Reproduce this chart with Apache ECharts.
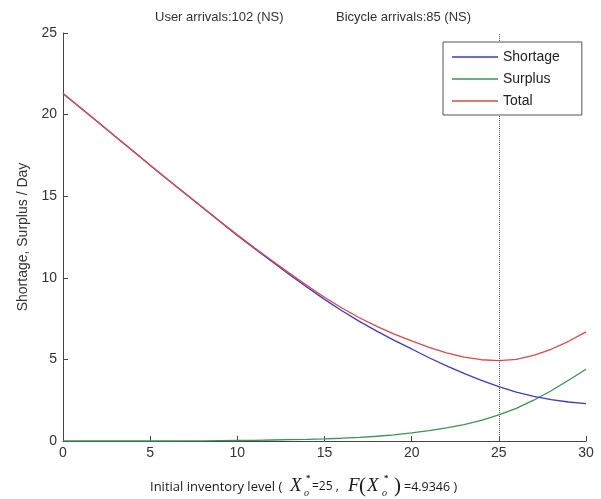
<!DOCTYPE html>
<html>
<head>
<meta charset="utf-8">
<script src="https://cdn.jsdelivr.net/npm/echarts@6/dist/echarts.min.js"></script>
<style>
  html, body { margin: 0; padding: 0; background: #fff; }
  #chart { width: 601px; height: 499px; }
</style>
</head>
<body>
<div id="chart"></div>
<script>
// Initial inventory levels (bicycles at the start of the day)
const inventoryLevels = [0, 1, 2, 3, 4, 5, 6, 7, 8, 9, 10, 11, 12, 13, 14, 15,
  16, 17, 18, 19, 20, 21, 22, 23, 24, 25, 26, 27, 28, 29, 30];

// Expected shortage per day
const shortage = [21.30, 20.42, 19.54, 18.66, 17.78, 16.90, 16.03, 15.17, 14.31, 13.45,
  12.60, 11.78, 10.98, 10.19, 9.42, 8.68, 7.98, 7.33, 6.73, 6.17,
  5.64, 5.10, 4.60, 4.14, 3.72, 3.33, 3.00, 2.74, 2.54, 2.39, 2.29];

// Expected surplus per day
const surplus = [0, 0, 0, 0, 0, 0, 0, 0.01, 0.01, 0.02,
  0.03, 0.04, 0.06, 0.08, 0.10, 0.13, 0.17, 0.22, 0.29, 0.38,
  0.50, 0.64, 0.80, 1.00, 1.26, 1.60, 2.00, 2.50, 3.08, 3.72, 4.40];

// Expected total (shortage + surplus) per day
const total = [21.30, 20.42, 19.54, 18.66, 17.78, 16.90, 16.03, 15.18, 14.32, 13.47,
  12.63, 11.82, 11.04, 10.27, 9.52, 8.81, 8.15, 7.55, 7.02, 6.55,
  6.14, 5.74, 5.40, 5.14, 4.98, 4.93, 5.00, 5.24, 5.62, 6.11, 6.69];

const xTicks = [0, 5, 10, 15, 20, 25, 30];
const yTicks = [0, 5, 10, 15, 20, 25];

const optimumLevel = 25;
const optimumCost = '4.9346';

const userArrivals = 'User arrivals:102 (NS)';
const bikeArrivals = 'Bicycle arrivals:85 (NS)';
const yName = 'Shortage, Surplus / Day';

const pair = (ys) => inventoryLevels.map((x, i) => [x, ys[i]]);

const sans = '"Liberation Sans", Arial, sans-serif';
const serif = '"Liberation Serif", "Times New Roman", serif';
const calib = '"Open Sans", "Liberation Sans", sans-serif';

const chart = echarts.init(document.getElementById('chart'), null, { renderer: 'canvas' });

// x-axis caption with math notation, laid out piece by piece
const captionY = 487;
function piece(x, y, text, font) {
  return { type: 'text', x: x, y: y, silent: true,
    style: { text: text, font: font, fill: '#1a1a1a', align: 'left', verticalAlign: 'middle' } };
}
const caption = [
  piece(150, captionY, 'Initial inventory level (', '13px ' + calib),
  piece(290, captionY - 1, 'X', 'italic 19px ' + serif),
  piece(304, captionY + 6, 'o', 'italic 10px ' + serif),
  piece(306, captionY - 8, '*', 'bold 9px ' + serif),
  piece(312, captionY, '=25 ,', '12px ' + calib),
  piece(348, captionY - 1, 'F', 'italic 19px ' + serif),
  piece(359, captionY - 1, '(', '21px ' + serif),
  piece(367, captionY - 1, 'X', 'italic 19px ' + serif),
  piece(382, captionY + 6, 'o', 'italic 10px ' + serif),
  piece(384, captionY - 8, '*', 'bold 9px ' + serif),
  piece(394, captionY - 1, ')', '21px ' + serif),
  piece(404, captionY, '=' + optimumCost + ' )', '12.5px ' + calib)
];

const titleStyle = { fontFamily: sans, fontSize: 13, fontWeight: 'normal', color: '#333' };

const option = {
  animation: false,
  backgroundColor: '#fff',
  title: [
    { text: userArrivals, left: 150, top: 6, textStyle: titleStyle },
    { text: bikeArrivals, left: 331, top: 6, textStyle: titleStyle }
  ],
  legend: {
    orient: 'vertical',
    left: 443, top: 42, z: 20,
    backgroundColor: '#fff',
    borderColor: '#555', borderWidth: 1, borderRadius: 0,
    padding: [7, 22, 6, 9],
    icon: 'rect',
    itemWidth: 46, itemHeight: 1.5, itemGap: 6, itemTextGap: 4,
    textStyle: { fontFamily: sans, fontSize: 14, color: '#222', lineHeight: 16 },
    data: ['Shortage', 'Surplus', 'Total']
  },
  grid: { left: 63, right: 15, top: 33, bottom: 58, containLabel: false },
  xAxis: {
    type: 'value', min: 0, max: 30, interval: 5,
    axisLine: { lineStyle: { color: '#444', width: 1 } },
    axisTick: { inside: true, length: 5, lineStyle: { color: '#444' } },
    axisLabel: { fontFamily: sans, fontSize: 14, color: '#333', margin: 5,
      customValues: xTicks },
    splitLine: { show: false }
  },
  yAxis: {
    type: 'value', min: 0, max: 25, interval: 5,
    name: yName, nameLocation: 'middle', nameGap: 32, nameRotate: 90,
    nameTextStyle: { fontFamily: sans, fontSize: 14, color: '#333' },
    axisLine: { show: true, lineStyle: { color: '#444', width: 1 } },
    axisTick: { show: true, inside: true, length: 5, lineStyle: { color: '#444' } },
    axisLabel: { fontFamily: sans, fontSize: 14, color: '#333', margin: 6,
      customValues: yTicks },
    splitLine: { show: false }
  },
  series: [
    {
      name: 'Shortage', type: 'line', data: pair(shortage),
      symbol: 'none', smooth: false, z: 3,
      lineStyle: { color: '#3c3cc0', width: 1.3 }, itemStyle: { color: '#3c3cc0' }
    },
    {
      name: 'Surplus', type: 'line', data: pair(surplus),
      symbol: 'none', smooth: false, z: 2,
      lineStyle: { color: '#3a9450', width: 1.3 }, itemStyle: { color: '#3a9450' }
    },
    {
      name: 'Total', type: 'line', data: pair(total),
      symbol: 'none', smooth: false, z: 4,
      lineStyle: { color: '#d84a4a', width: 1.3 }, itemStyle: { color: '#d84a4a' },
      markLine: {
        silent: true, symbol: 'none', label: { show: false },
        lineStyle: { type: 'dotted', color: '#555', width: 1 },
        data: [{ xAxis: optimumLevel }]
      }
    }
  ],
  graphic: caption
};

chart.setOption(option);
</script>
</body>
</html>
